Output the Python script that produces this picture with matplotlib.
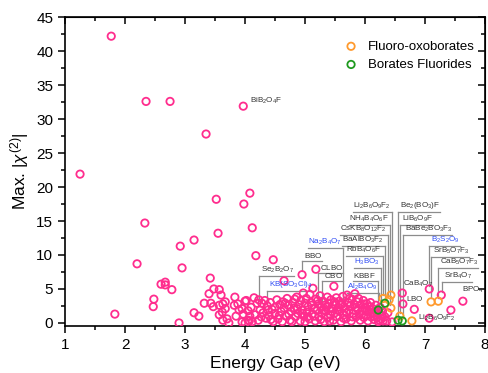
import matplotlib
matplotlib.use("Agg")
import matplotlib.pyplot as plt
from matplotlib.ticker import MultipleLocator

plt.rcParams["font.family"] = ["Liberation Sans", "DejaVu Sans"]
plt.rcParams["mathtext.fontset"] = "custom"
plt.rcParams["mathtext.rm"] = "Liberation Sans"
plt.rcParams["mathtext.it"] = "Liberation Sans:italic"

# --- data ---
pink_x = [
    1.25, 1.77, 2.35, 2.75, 3.35, 3.52, 3.97, 4.08, 3.98, 2.33, 4.12, 3.55,
    3.15, 2.92, 4.18, 4.47, 2.20, 2.95, 3.42, 2.60, 2.67, 2.67, 2.78, 2.48,
    2.47, 1.83, 2.90, 3.15, 3.23, 3.32, 3.40, 3.48, 3.57, 3.60, 3.43, 3.47,
    3.57, 3.63, 3.67, 3.67, 3.57, 3.62, 3.63, 3.70, 3.73, 3.83, 3.82, 3.88,
    3.90, 3.85, 3.95, 3.97, 4.00, 3.95, 4.00, 4.05, 4.07,
    4.95, 5.18, 4.65, 5.13, 5.48,
    4.02, 4.05, 4.10, 4.15, 4.17, 4.20, 4.22, 4.25, 4.28, 4.30, 4.33, 4.35,
    4.37, 4.40, 4.42, 4.45, 4.47, 4.50, 4.50, 4.53, 4.55, 4.58, 4.60, 4.62,
    4.63, 4.65, 4.68, 4.70, 4.72, 4.75, 4.77, 4.80, 4.82, 4.84, 4.86, 4.88,
    4.90, 4.92, 4.93, 4.95, 4.97, 4.98, 5.00, 5.00,
    5.02, 5.03, 5.05, 5.07, 5.08, 5.10, 5.12, 5.15, 5.17, 5.18, 5.20, 5.22,
    5.23, 5.25, 5.27, 5.28, 5.30, 5.32, 5.33, 5.35, 5.37, 5.38, 5.40, 5.42,
    5.43, 5.45, 5.47, 5.50, 5.50,
    5.52, 5.53, 5.55, 5.57, 5.58, 5.60, 5.62, 5.63, 5.65, 5.67, 5.68, 5.70,
    5.72, 5.73, 5.75, 5.77, 5.78, 5.80, 5.82, 5.83, 5.85, 5.87, 5.88, 5.90,
    5.92, 5.93, 5.95, 5.97, 5.98, 6.00,
    6.02, 6.03, 6.05, 6.07, 6.08, 6.10, 6.12, 6.13, 6.15, 6.17, 6.18, 6.20,
    6.22, 6.23, 6.25, 6.27, 6.28, 6.30,
    4.08, 4.12, 4.23, 4.27, 4.38, 4.43, 4.57, 4.67, 4.73, 4.78, 4.83, 4.87,
    4.96, 5.04, 5.11, 5.16, 5.21, 5.26, 5.31, 5.36, 5.41, 5.44, 5.49, 5.54,
    5.59, 5.64, 5.69, 5.74, 5.79, 5.84, 5.89, 5.94, 5.99, 6.04, 6.09, 6.14,
    6.19, 6.24, 6.29, 6.33, 6.36, 6.38,
    6.62, 6.63, 6.82, 7.07, 7.27, 7.43, 7.63, 7.07, 6.45,
]
pink_y = [
    21.9, 42.2, 32.6, 32.6, 27.8, 18.2, 31.9, 19.1, 17.5, 14.7, 14.0, 13.2,
    12.2, 11.3, 9.9, 9.3, 8.7, 8.1, 6.6, 5.7, 6.0, 5.6, 4.9, 3.5,
    2.4, 1.3, 0.0, 1.5, 1.0, 2.9, 4.3, 5.0, 4.9, 4.1, 2.9, 2.4,
    2.6, 2.8, 3.1, 2.1, 1.2, 1.6, 0.4, 0.6, 0.0, 3.8, 2.6, 2.8,
    1.9, 1.0, 2.1, 1.3, 3.2, 0.15, 0.0, 1.8, 0.3,
    7.1, 7.9, 6.2, 5.1, 5.4,
    3.3, 0.4, 2.3, 3.7, 1.2, 2.9, 0.4, 1.9, 2.9, 1.5, 3.3, 0.7,
    2.5, 1.1, 3.0, 2.0, 0.2, 2.3, 1.4, 3.4, 0.6, 2.7, 1.7, 0.2,
    3.1, 2.2, 1.0, 3.6, 2.6, 0.4, 1.7, 3.0, 2.2, 0.9, 3.8, 1.4,
    2.7, 0.3, 3.3, 1.9, 4.4, 1.0, 2.9, 0.2,
    3.6, 1.6, 2.4, 0.6, 4.2, 3.0, 1.3, 2.2, 0.3, 3.5, 1.8, 2.8,
    0.9, 4.0, 2.3, 1.4, 3.2, 0.2, 2.6, 1.7, 3.8, 0.8, 2.9, 1.2,
    3.4, 2.1, 0.4, 2.7, 1.5,
    3.7, 0.9, 2.3, 3.2, 1.7, 0.2, 2.8, 3.9, 1.2, 2.2, 0.6, 4.1,
    3.0, 1.8, 2.5, 0.3, 3.5, 1.4, 2.7, 4.3, 0.9, 3.1, 2.0, 1.3,
    0.4, 2.6, 1.8, 3.3, 0.8, 2.2,
    1.1, 2.8, 0.3, 1.7, 2.4, 0.9, 1.5, 2.1, 0.5, 1.2, 2.6, 0.8,
    0.2, 1.4, 2.3, 0.6, 1.1, 0.3,
    1.0, 0.2, 3.4, 0.9, 1.9, 0.5, 1.1, 2.9, 1.3, 0.2, 3.5, 2.1,
    1.4, 0.9, 2.6, 1.0, 3.3, 0.5, 1.9, 2.4, 0.3, 1.7, 3.1, 1.9,
    2.6, 0.7, 1.5, 3.6, 0.9, 2.3, 3.6, 1.2, 2.8, 1.9, 3.0, 1.0,
    1.8, 0.4, 1.7, 0.9, 0.3, 1.5,
    4.4, 2.8, 2.0, 5.0, 4.1, 1.9, 3.2, 0.7, 0.15,
]
fluoro_x = [6.30, 6.43, 6.40, 6.43, 6.58, 6.78, 7.10, 7.22]
fluoro_y = [3.6, 4.1, 3.4, 2.2, 1.0, 0.3, 3.1, 3.2]
borfl_x = [6.22, 6.33, 6.55, 6.62]
borfl_y = [1.9, 2.9, 0.4, 0.3]

# label, colour, line x, text y, side of text, leader end y (None = no leader)
labels = [
    ("BiB_2O_4F", "k", 4.06, 31.9, "left", None),
    ("Se_2B_2O_7", "k", 4.24, 7.0, "left", 3.4),
    ("KB(SO_3Cl)_4", "b", 4.37, 4.8, "left", 3.4),
    ("BBO", "k", 4.95, 9.2, "left", 7.7),
    ("CLBO", "k", 5.22, 7.5, "left", 3.1),
    ("CBO", "k", 5.28, 6.3, "left", 3.2),
    ("Na_2B_4O_7", "b", 5.63, 11.2, "right", 2.9),
    ("Li_2B_6O_9F_2", "k", 6.45, 16.5, "right", 4.6),
    ("NH_4B_4O_6F", "k", 6.42, 14.6, "right", 2.7),
    ("CsKB_8O_{12}F_2", "k", 6.39, 13.1, "right", 3.9),
    ("BaAlBO_3F_2", "k", 6.34, 11.5, "right", 3.4),
    ("RbB_4O_6F", "k", 6.30, 10.0, "right", 4.1),
    ("H_3BO_3", "b", 6.27, 8.2, "right", 3.2),
    ("KBBF", "k", 6.21, 6.3, "right", 2.4),
    ("Al_2B_4O_9", "b", 6.24, 4.5, "right", 3.8),
    ("Be_2(BO_3)F", "k", 6.55, 16.5, "left", 0.9),
    ("LiB_6O_9F", "k", 6.59, 14.6, "left", 1.5),
    ("BaBe_2BO_3F_3", "k", 6.63, 13.1, "left", 0.8),
    ("B_2S_2O_9", "b", 7.07, 11.5, "left", 5.5),
    ("SrB_5O_7F_3", "k", 7.10, 9.8, "left", 3.6),
    ("CaB_5O_7F_3", "k", 7.22, 8.2, "left", 3.7),
    ("SrB_4O_7", "k", 7.28, 6.2, "left", 4.6),
    ("CaB_4O_7", "k", 6.60, 5.0, "left", None),
    ("LBO", "k", 6.66, 2.9, "left", None),
    ("Li_2B_6O_9F_2", "k", 6.85, 0.0, "left", None),
    ("BPO_4", "k", 7.58, 4.1, "left", None),
]

pink = "#ff2d8e"
orange = "#ff9a2e"
green = "#1f9a1f"
label_colors = {"k": "#333333", "b": "#2f4cf5"}

fig = plt.figure(figsize=(4.89, 3.73), dpi=100)
ax = fig.add_axes([0.133, 0.126, 0.859, 0.828])

mk = dict(s=28, facecolors="none", linewidths=1.3, zorder=3)
ax.scatter(pink_x, pink_y, edgecolors=pink, **mk)
ax.scatter(fluoro_x, fluoro_y, edgecolors=orange, label="Fluoro-oxoborates", **mk)
ax.scatter(borfl_x, borfl_y, edgecolors=green, label="Borates Fluorides", **mk)

ax.set_xlim(1, 8)
ax.set_ylim(-0.45, 45)
ax.xaxis.set_major_locator(MultipleLocator(1))
ax.xaxis.set_minor_locator(MultipleLocator(0.5))
ax.yaxis.set_major_locator(MultipleLocator(5))
ax.yaxis.set_minor_locator(MultipleLocator(2.5))
ax.tick_params(which="major", direction="out", length=5, width=1.1, labelsize=11)
ax.tick_params(which="minor", direction="out", length=3, width=1.1)
for sp in ax.spines.values():
    sp.set_linewidth(1.2)

top = ax.secondary_xaxis("top")
top.xaxis.set_major_locator(MultipleLocator(1))
top.xaxis.set_minor_locator(MultipleLocator(0.5))
top.tick_params(which="major", direction="in", length=5, width=1.1, labeltop=False)
top.tick_params(which="minor", direction="in", length=3, width=1.1)
right = ax.secondary_yaxis("right")
right.yaxis.set_major_locator(MultipleLocator(5))
right.yaxis.set_minor_locator(MultipleLocator(2.5))
right.tick_params(which="major", direction="in", length=5, width=1.1, labelright=False)
right.tick_params(which="minor", direction="in", length=3, width=1.1)

ax.set_xlabel("Energy Gap (eV)", fontsize=12.5, labelpad=3)
ax.set_ylabel(r"Max. $|\chi^{(2)}|$", fontsize=12.5, labelpad=4)

ax.legend(loc="upper right", bbox_to_anchor=(0.995, 0.95), frameon=False,
          fontsize=9.5, handletextpad=0.3, labelspacing=0.45, borderaxespad=0.2)

# labels with underline and leader line
texts = []
for name, col, lx, ty, side, yend in labels:
    pad = 0.03 if side == "left" else -0.03
    t = ax.text(lx + pad, ty, r"$\mathregular{" + name + "}$", fontsize=5.8,
                color=label_colors[col], ha=side, va="bottom", zorder=4)
    texts.append((t, lx, side, yend))

fig.canvas.draw()
inv = ax.transData.inverted()
for t, lx, side, yend in texts:
    bb = t.get_window_extent()
    (x0, y0), (x1, _) = inv.transform([(bb.x0, bb.y0), (bb.x1, bb.y1)])
    if yend is None:
        continue
    uy = y0 - 0.15
    if side == "left":
        ax.plot([lx, x1], [uy, uy], color="#8c8c8c", lw=0.9, zorder=2)
    else:
        ax.plot([x0, lx], [uy, uy], color="#8c8c8c", lw=0.9, zorder=2)
    ax.plot([lx, lx], [uy, yend], color="#8c8c8c", lw=0.9, zorder=2)

fig.savefig("out.png", dpi=100)
